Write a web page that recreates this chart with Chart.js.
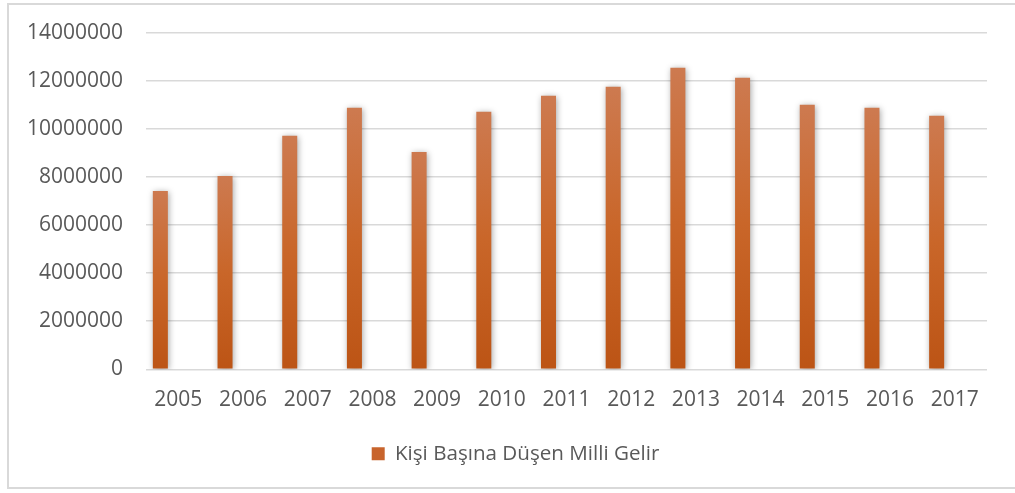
<!DOCTYPE html>
<html>
<head>
<meta charset="utf-8">
<script src="https://cdn.jsdelivr.net/npm/chart.js@4"></script>
<style>
  html, body { margin: 0; padding: 0; background: #fff; overflow: hidden; }
  #frame { position: absolute; left: 7px; top: 3px; width: 1030px; height: 486px; border: 2px solid #d9d9d9; box-sizing: border-box; }
  #wrap { position: absolute; left: 0; top: -3px; width: 1015px; height: 496px; }
</style>
</head>
<body>
<div id="frame"></div>
<div id="wrap"><canvas id="chart" width="1015" height="496"></canvas></div>
<script>
const years = ['2005', '2006', '2007', '2008', '2009', '2010', '2011', '2012', '2013', '2014', '2015', '2016', '2017'];
const income = [7420000, 8040000, 9710000, 10875000, 9040000, 10710000, 11375000, 11750000, 12540000, 12125000, 11000000, 10875000, 10540000];
const seriesName = 'Kişi Başına Düşen Milli Gelir';

const textColor = '#595959';
const font = { family: '"Open Sans", sans-serif', size: 21, lineHeight: 1.2 };

function barGradient(context) {
  const chart = context.chart;
  const y = chart.scales.y;
  if (!y || context.dataIndex === undefined) return '#c8642c';
  const top = y.getPixelForValue(context.raw);
  const base = y.getPixelForValue(0);
  if (!isFinite(top) || !isFinite(base) || base - top < 1) return '#c8642c';
  const g = chart.ctx.createLinearGradient(0, top, 0, base);
  g.addColorStop(0, '#cd7a50');
  g.addColorStop(0.5, '#c96629');
  g.addColorStop(1, '#bc5415');
  return g;
}

const barShadow = {
  id: 'barShadow',
  beforeDatasetsDraw(chart) {
    const ctx = chart.ctx;
    ctx.save();
    ctx.shadowColor = 'rgba(0, 0, 0, 0.35)';
    ctx.shadowBlur = 6;
    ctx.shadowOffsetX = 1;
    ctx.shadowOffsetY = 1;
  },
  afterDatasetsDraw(chart) {
    chart.ctx.restore();
  }
};

// Excel centres the legend a little right of the canvas middle
const legendShift = {
  id: 'legendShift',
  afterLayout(chart) {
    if (chart.legend) {
      chart.legend.left += 22;
      chart.legend.right += 22;
    }
  }
};

new Chart(document.getElementById('chart'), {
  type: 'bar',
  data: {
    labels: years,
    datasets: [
      {
        label: seriesName,
        data: income,
        backgroundColor: barGradient,
        borderWidth: 0,
        barPercentage: 0.417,
        categoryPercentage: 1.113
      },
      {
        label: '',
        data: years.map(() => null),
        backgroundColor: 'rgba(0,0,0,0)',
        barPercentage: 0.417,
        categoryPercentage: 1.113
      }
    ]
  },
  options: {
    responsive: false,
    animation: false,
    layout: { padding: { top: 28, right: 28, bottom: 19, left: 0 } },
    plugins: {
      tooltip: { enabled: false },
      legend: {
        position: 'bottom',
        labels: {
          color: textColor,
          font: { ...font, size: 20.6 },
          boxWidth: 13,
          boxHeight: 13,
          padding: 10,
          generateLabels: () => [{
            text: seriesName,
            fillStyle: '#c8642c',
            strokeStyle: 'rgba(0,0,0,0)',
            lineWidth: 0,
            datasetIndex: 0,
            fontColor: textColor
          }]
        }
      }
    },
    scales: {
      x: {
        grid: { display: false, drawTicks: false },
        border: { display: false },
        ticks: { color: textColor, font, padding: 18, maxRotation: 0, autoSkip: false },
        afterFit: (scale) => { scale.height = 64; }
      },
      y: {
        min: 0,
        max: 14000000,
        grid: { color: '#d9d9d9', lineWidth: 1.6, drawTicks: false },
        border: { display: false },
        ticks: { stepSize: 2000000, color: textColor, font, padding: 23, callback: (v) => String(v) },
        afterFit: (scale) => { scale.width = 146; }
      }
    }
  },
  plugins: [barShadow, legendShift]
});
</script>
</body>
</html>
